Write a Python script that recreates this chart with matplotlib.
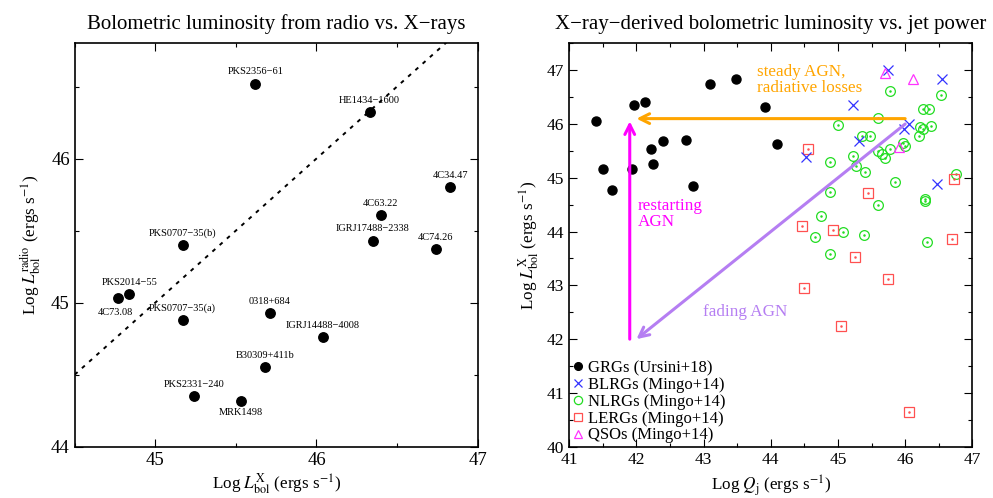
import matplotlib
matplotlib.use("Agg")
import matplotlib.pyplot as plt
from matplotlib.ticker import MultipleLocator

plt.rcParams['font.family'] = ['Liberation Serif', 'DejaVu Serif']
plt.rcParams['mathtext.fontset'] = 'stix'

M = "\u2212"

# left panel: radio vs X-ray bolometric luminosity
src_names = ["PKS2356" + M + "61", "HE1434" + M + "1600", "4C34.47", "4C63.22",
             "IGRJ17488" + M + "2338", "4C74.26", "PKS0707" + M + "35(b)",
             "PKS2014" + M + "55", "4C73.08", "PKS0707" + M + "35(a)", "0318+684",
             "IGRJ14488" + M + "4008", "B30309+411b", "PKS2331" + M + "240", "MRK1498"]
lx = [45.62, 46.33, 46.83, 46.40, 46.35, 46.74, 45.17,
      44.84, 44.77, 45.17, 45.71, 46.04, 45.68, 45.24, 45.53]
lradio = [46.52, 46.32, 45.80, 45.61, 45.43, 45.37, 45.40,
          45.06, 45.03, 44.88, 44.93, 44.76, 44.55, 44.35, 44.32]
below = ["4C73.08", "MRK1498"]

# right panel
grg_q = [41.40, 41.50, 41.63, 41.94, 41.97, 42.13, 42.21, 42.24, 42.40, 42.73,
         42.84, 43.10, 43.48, 43.92, 44.09]
grg_l = [46.05, 45.17, 44.77, 45.17, 46.36, 46.40, 45.54, 45.25, 45.69, 45.71,
         44.85, 46.74, 46.83, 46.32, 45.62]

blrg_q = [44.52, 45.23, 45.31, 45.75, 45.98, 46.06, 46.55, 46.48]
blrg_l = [45.38, 46.36, 45.69, 47.00, 45.91, 46.00, 46.83, 44.89]

nlrg_q = [45.00, 45.60, 45.78, 46.54, 46.26, 46.35, 46.22, 46.27, 46.38, 46.21,
          45.36, 45.48, 45.59, 45.77, 45.66, 45.70, 45.97, 46.00, 45.23, 45.27,
          45.40, 44.88, 44.88, 45.85, 45.59, 46.29, 46.30, 46.75, 44.75, 44.66,
          45.07, 45.39, 46.33, 44.88]
nlrg_l = [45.99, 46.11, 46.61, 46.54, 46.28, 46.28, 45.95, 45.91, 45.97, 45.77,
          45.77, 45.77, 45.49, 45.53, 45.44, 45.36, 45.64, 45.59, 45.40, 45.22,
          45.10, 45.30, 44.73, 44.93, 44.50, 44.60, 44.57, 45.07, 44.29, 43.89,
          44.00, 43.94, 43.80, 43.58]

lerg_q = [44.55, 45.44, 46.73, 44.46, 44.92, 46.69, 45.26, 45.74, 44.50, 45.05, 46.05]
lerg_l = [45.53, 44.71, 44.98, 44.10, 44.02, 43.87, 43.52, 43.12, 42.96, 42.24, 40.64]

qso_q = [45.70, 46.11, 45.91]
qso_l = [46.94, 46.84, 45.57]

fig = plt.figure(figsize=(9.93, 4.98), dpi=100)
ax1 = fig.add_axes([0.0752, 0.103, 0.4058, 0.810])
ax2 = fig.add_axes([0.5733, 0.103, 0.4059, 0.810])

for ax in (ax1, ax2):
    ax.tick_params(which='both', direction='in', top=True, right=True)
    ax.tick_params(which='major', length=6, width=0.8)
    ax.tick_params(which='minor', length=3, width=0.8)
    for s in ax.spines.values():
        s.set_linewidth(1.2)

# ---- left
ax1.plot([44.5, 47], [44.5, 47], color='black', ls=(0, (2, 3)), lw=1.4)
ax1.plot(lx, lradio, 'o', color='black', ms=6.8, ls='none')
for n, x, y in zip(src_names, lx, lradio):
    if n in below:
        if n == "4C73.08":
            ax1.text(x - 0.02, y - 0.07, n, fontsize=7.5, ha='center', va='top')
        else:
            ax1.text(x, y - 0.05, n, fontsize=7.5, ha='center', va='top')
    else:
        ax1.text(x, y + 0.05, n, fontsize=7.5, ha='center', va='bottom')
ax1.set_xlim(44.5, 47)
ax1.set_ylim(44, 46.8)
ax1.xaxis.set_major_locator(MultipleLocator(1))
ax1.xaxis.set_minor_locator(MultipleLocator(0.5))
ax1.yaxis.set_major_locator(MultipleLocator(1))
ax1.yaxis.set_minor_locator(MultipleLocator(0.5))
ax1.tick_params(labelsize=13.5)
ax1.set_xlabel(r"Log $L_{\rm bol}^{\rm X}$ (ergs s$^{-1}$)", fontsize=12.3, labelpad=2)
ax1.set_ylabel(r"Log $L_{\rm bol}^{\rm radio}$ (ergs s$^{-1}$)", fontsize=12.3, labelpad=6)
ax1.set_title("Bolometric luminosity from radio vs. X" + M + "rays", fontsize=15, pad=10)

# ---- right
ax2.annotate("", xy=(42.0, 46.1), xytext=(46.0, 46.1),
             arrowprops=dict(arrowstyle='->,head_length=0.7,head_width=0.35',
                             color='#FFA500', lw=2.2, shrinkA=0, shrinkB=0))
ax2.annotate("", xy=(41.9, 46.05), xytext=(41.9, 42.0),
             arrowprops=dict(arrowstyle='->,head_length=0.7,head_width=0.35',
                             color='#FF00FF', lw=2.2, shrinkA=0, shrinkB=0))
ax2.annotate("", xy=(42.0, 42.0), xytext=(46.0, 46.0),
             arrowprops=dict(arrowstyle='->,head_length=0.7,head_width=0.35',
                             color='#B57EF2', lw=2.2, shrinkA=0, shrinkB=0))

ax2.plot(nlrg_q, nlrg_l, 'o', mfc='none', mec='#22DD22', ms=7, mew=0.9, ls='none',
         label='NLRGs (Mingo+14)')
ax2.plot(nlrg_q, nlrg_l, 'o', color='#22DD22', ms=0.8, ls='none')
ax2.plot(lerg_q, lerg_l, 's', mfc='none', mec='#FF5050', ms=7, mew=0.9, ls='none',
         label='LERGs (Mingo+14)')
ax2.plot(lerg_q, lerg_l, 'o', color='#FF5050', ms=0.8, ls='none')
ax2.plot(blrg_q, blrg_l, 'x', color='#3333FF', ms=7.5, mew=0.9, ls='none',
         label='BLRGs (Mingo+14)')
ax2.plot(qso_q, qso_l, '^', mfc='none', mec='#FF33FF', ms=7, mew=0.9, ls='none',
         label='QSOs (Mingo+14)')
ax2.plot(grg_q, grg_l, 'o', color='black', ms=6.5, ls='none', label='GRGs (Ursini+18)')

ax2.text(43.8, 46.82, "steady AGN,\nradiative losses", color='#FFA500', fontsize=12.3,
         ha='left', va='center', linespacing=1.0)
ax2.text(42.02, 44.33, "restarting\nAGN", color='#FF00FF', fontsize=12.3,
         ha='left', va='center', linespacing=1.0)
ax2.text(43.62, 42.5, "fading AGN", color='#B57EF2', fontsize=12.3,
         ha='center', va='center')

ax2.set_xlim(41, 47)
ax2.set_ylim(40, 47.5)
ax2.xaxis.set_major_locator(MultipleLocator(1))
ax2.xaxis.set_minor_locator(MultipleLocator(0.5))
ax2.yaxis.set_major_locator(MultipleLocator(1))
ax2.yaxis.set_minor_locator(MultipleLocator(0.5))
ax2.tick_params(labelsize=12.5)
ax2.set_xlabel(r"Log $Q_{\rm j}$ (ergs s$^{-1}$)", fontsize=12.3, labelpad=4)
ax2.set_ylabel(r"Log $L_{\rm bol}^{\rm X}$ (ergs s$^{-1}$)", fontsize=12.3, labelpad=4)
ax2.set_title("X" + M + "ray" + M + "derived bolometric luminosity vs. jet power",
              fontsize=15, pad=10)

h, l = ax2.get_legend_handles_labels()
order = ['GRGs (Ursini+18)', 'BLRGs (Mingo+14)', 'NLRGs (Mingo+14)',
         'LERGs (Mingo+14)', 'QSOs (Mingo+14)']
hd = dict(zip(l, h))
ax2.legend([hd[k] for k in order], order, loc='lower left', frameon=False,
           fontsize=12, handlelength=0.6, handletextpad=0.3, labelspacing=0.05,
           borderaxespad=0.1, borderpad=0.1, markerscale=0.85)

fig.savefig("out.png", dpi=100)
